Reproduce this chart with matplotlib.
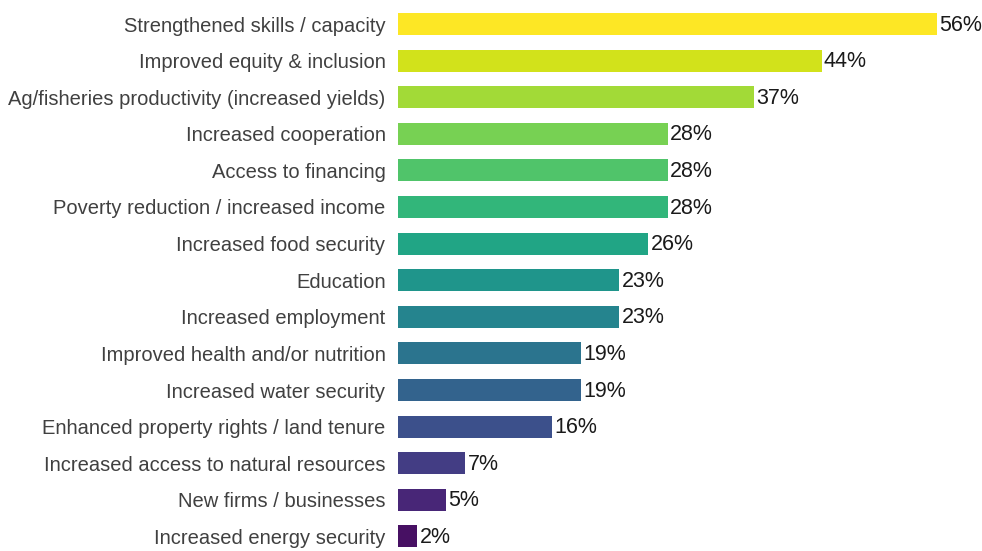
import matplotlib
matplotlib.use('Agg')
import matplotlib.pyplot as plt
import numpy as np

categories = [
    'Strengthened skills / capacity',
    'Improved equity & inclusion',
    'Ag/fisheries productivity (increased yields)',
    'Increased cooperation',
    'Access to financing',
    'Poverty reduction / increased income',
    'Increased food security',
    'Education',
    'Increased employment',
    'Improved health and/or nutrition',
    'Increased water security',
    'Enhanced property rights / land tenure',
    'Increased access to natural resources',
    'New firms / businesses',
    'Increased energy security',
]
values = [56, 44, 37, 28, 28, 28, 26, 23, 23, 19, 19, 16, 7, 5, 2]

plt.rcParams['font.family'] = ['Liberation Sans', 'DejaVu Sans']

fig = plt.figure(figsize=(9.82, 5.51), dpi=100)
W, H = 982, 551
ax = fig.add_axes([398 / W, 0, 1 - 398 / W, 1])

n = len(values)
ind = np.arange(n)
colors = plt.cm.viridis(np.linspace(1.0, 0.04, n))

ax.barh(ind, values, height=0.6, color=colors)

# row spacing ~36.6 px, first row centred at y=24
step = 36.6
top = 24
ax.set_ylim(n - 1 + (H - top - step * (n - 1)) / step, -top / step)
ax.set_xlim(0, (W - 398) / 9.625)

for i, v in enumerate(values):
    ax.text(v + 0.25, i + 0.03, '%d%%' % v, va='center', ha='left',
            fontsize=15.5, color='#1a1a1a')

ax.set_yticks(ind)
ax.set_yticklabels(categories, fontsize=14.5, color='#404040')
ax.tick_params(axis='y', length=0, pad=9)
ax.set_xticks([])
for s in ax.spines.values():
    s.set_visible(False)

fig.savefig('out.png', dpi=100)
